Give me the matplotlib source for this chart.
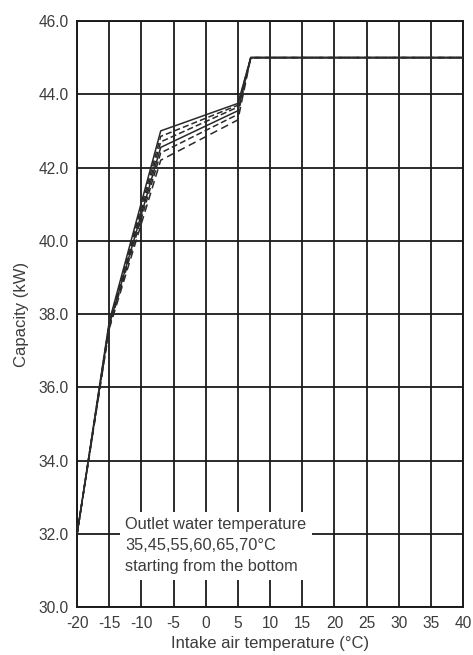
import numpy as np
import matplotlib
matplotlib.use("Agg")
import matplotlib.pyplot as plt

plt.rcParams["font.family"] = ["Liberation Sans", "DejaVu Sans"]
plt.rcParams["axes.unicode_minus"] = False

# intake air temperature breakpoints (°C)
temp_air = [-20, -15, -7, 5, 7, 40]

# capacity (kW) per outlet water temperature
cap_35 = [32.0, 37.60, 42.20, 43.30, 45.0, 45.0]
cap_45 = [32.0, 37.65, 42.40, 43.45, 45.0, 45.0]
cap_55 = [32.0, 37.70, 42.55, 43.55, 45.0, 45.0]
cap_60 = [32.0, 37.70, 42.70, 43.65, 45.0, 45.0]
cap_65 = [32.0, 37.75, 42.85, 43.70, 45.0, 45.0]
cap_70 = [32.0, 37.80, 43.00, 43.75, 45.0, 45.0]

series = [cap_35, cap_45, cap_55, cap_60, cap_65, cap_70]
styles = [(0, (5, 3)), (0, (4, 2)), "-", (0, (4, 2)), (0, (4, 2)), "-"]

x_ticks = list(range(-20, 41, 5))
y_ticks = [30.0, 32.0, 34.0, 36.0, 38.0, 40.0, 42.0, 44.0, 46.0]

fig = plt.figure(figsize=(4.73, 6.55), dpi=100)
ax = fig.add_axes([0.163, 0.073, 0.816, 0.895])

ax.set_xlim(-20, 40)
ax.set_ylim(30, 46)
ax.set_xticks(x_ticks)
ax.set_yticks(y_ticks)
ax.set_yticklabels(["%.1f" % v for v in y_ticks])
ax.grid(True, color="#1a1a1a", linewidth=1.3)
ax.set_axisbelow(True)
ax.tick_params(length=0, pad=6, labelsize=11.2, labelcolor="#3c3c3c")
for s in ax.spines.values():
    s.set_color("#1a1a1a")
    s.set_linewidth(1.4)

for vals, ls in zip(series, styles):
    ax.plot(temp_air, vals, color="#2a2a2a", linewidth=1.1, linestyle=ls, zorder=3)

ax.text(-12.5, 31.67, "Outlet water temperature\n35,45,55,60,65,70°C\nstarting from the bottom",
        fontsize=11.8, color="#3c3c3c", va="center", ha="left", linespacing=1.5, zorder=4,
        bbox=dict(facecolor="white", edgecolor="none", pad=4))

ax.set_xlabel("Intake air temperature (°C)", fontsize=12, color="#3c3c3c", labelpad=4)
ax.set_ylabel("Capacity (kW)", fontsize=12, color="#3c3c3c", labelpad=7)

fig.savefig("out.png", dpi=100)
